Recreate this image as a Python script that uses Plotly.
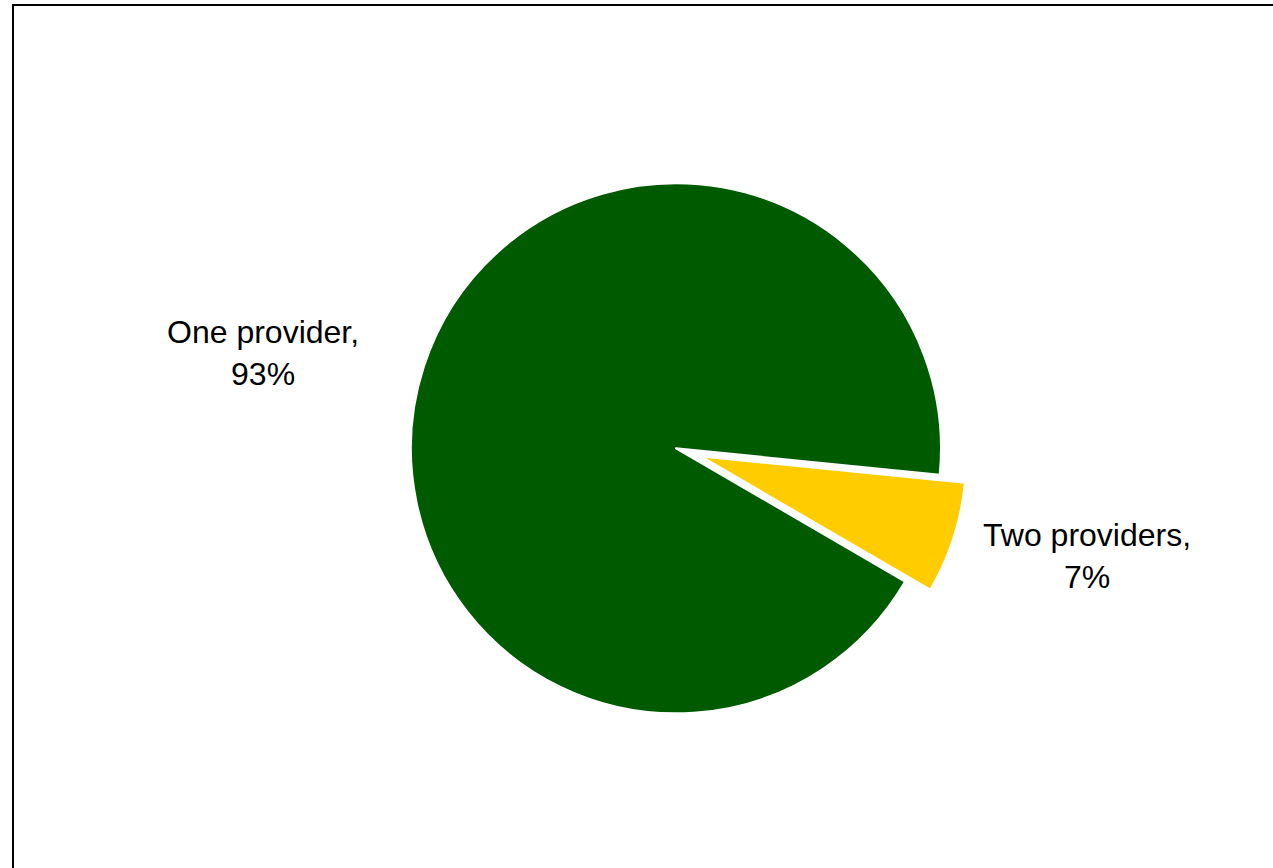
import plotly.graph_objects as go

# Data
labels = ["Two providers", "One provider"]
values = [6.8, 93.2]
shown_pct = ["7%", "93%"]
colors = ["#FFCC00", "#005A00"]
pulls = [0.1, 0.0]

W, H = 1273, 868

fig = go.Figure(go.Pie(
    labels=labels,
    values=values,
    sort=False,
    direction="clockwise",
    rotation=95.7,
    pull=pulls,
    marker=dict(colors=colors, line=dict(color="white", width=2)),
    textinfo="none",
    hoverinfo="label+percent",
    domain=dict(x=[0.302, 0.760], y=[0.147, 0.820]),
    showlegend=False,
))

# Labels (text from data lists)
label_pos = {
    "One provider": (263 / W, 1 - 353 / H),
    "Two providers": (1087 / W, 1 - 556 / H),
}
for lab, pct in zip(labels, shown_pct):
    x, y = label_pos[lab]
    fig.add_annotation(
        x=x, y=y, xref="paper", yref="paper",
        text=f"{lab},<br>{pct}",
        showarrow=False, xanchor="center", yanchor="middle",
        font=dict(family="Arial, Liberation Sans, sans-serif", size=32, color="black"),
    )

# Chart frame
fig.add_shape(
    type="rect", xref="paper", yref="paper",
    x0=13 / W, x1=1.02, y0=-0.02, y1=1 - 5 / H,
    line=dict(color="black", width=2),
)

fig.update_layout(
    width=W, height=H,
    margin=dict(l=0, r=0, t=0, b=0),
    paper_bgcolor="white",
    plot_bgcolor="white",
)

fig.write_html("out.html", config={"displayModeBar": False},
               post_script="document.body.style.margin='0';")
